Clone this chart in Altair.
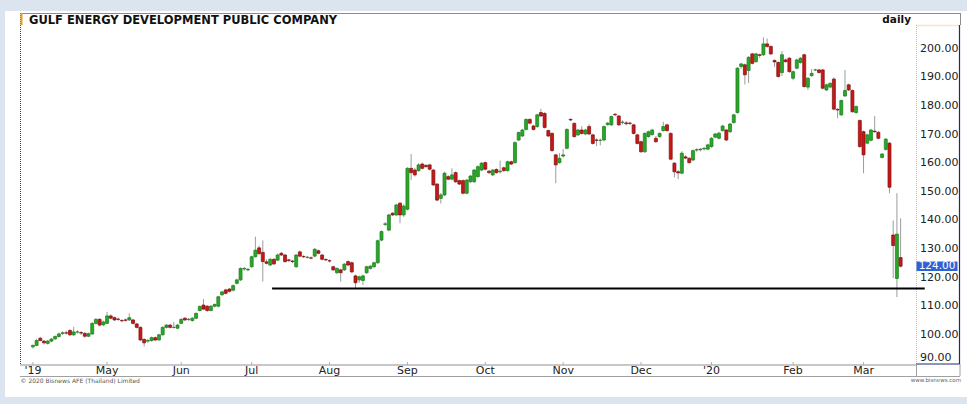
import pandas as pd
import altair as alt

# ---------------- texts ----------------
TITLE = "GULF ENERGY DEVELOPMENT PUBLIC COMPANY"
PERIOD = "daily"
COPYRIGHT = "© 2020 Bisnews AFE (Thailand) Limited"
SOURCE = "www.bisnews.com"

# ---------------- axis data ----------------
month_start_idx = [0, 20, 40, 59, 80, 101, 122, 143, 164, 183, 205, 224]
month_labels = ["'19", "May", "Jun", "Jul", "Aug", "Sep", "Oct", "Nov", "Dec", "'20", "Feb", "Mar"]
price_ticks = [90, 100, 110, 120, 130, 140, 150, 160, 170, 180, 190, 200]

# support line
support_level = [116.2]
support_from = [64.5]
support_to = [240.5]

# ---------------- OHLC (trading-day index 0 = early Apr 2019) ----------------
open_ = [
    95.8, 96.3, 98.8, 97.8, 97.0, 97.8, 98.6, 99.4, 100.5, 100.7, 101.5, 100.0, 101.0, 100.8, 100.5, 99.5, 100.3, 104.0, 105.4, 103.5,
    104.0, 106.6, 106.0, 105.5, 105.0, 105.2, 105.2, 105.2, 103.8, 102.6, 98.4, 97.8, 98.0, 99.0, 98.2, 100.0, 102.6, 103.4, 102.6, 102.3,
    104.0, 105.8, 105.4, 105.0, 105.8, 108.5, 110.4, 110.0, 108.5, 110.0, 110.0, 114.0, 115.7, 116.0, 115.6, 118.0, 119.2, 123.0, 122.7,
    123.8, 127.3, 130.4, 128.8, 125.5, 124.4, 126.4, 126.1, 128.5, 127.9, 126.2, 125.8, 123.8, 129.0, 127.4, 127.1, 126.9, 127.5, 129.4, 127.9, 126.3,
    125.9, 123.8, 121.7, 122.7, 122.7, 125.6, 125.2, 120.6, 119.2, 119.0, 121.7, 123.2, 123.8, 125.2, 133.1, 138.6, 136.6, 142.5, 141.9, 146.0, 141.9,
    143.9, 158.2, 157.6, 157.4, 159.7, 159.2, 159.4, 157.6, 152.7, 147.7, 148.9, 155.3, 154.4, 156.7, 153.9, 153.9, 149.5, 153.5, 153.5, 155.3, 157.6,
    160.2, 157.2, 155.9, 157.8, 157.0, 158.4, 157.4, 160.5, 160.2, 168.1, 169.5, 171.8, 175.3, 173.0, 172.8, 177.7, 177.4, 171.4, 170.4, 162.9, 160.2,
    162.5, 165.2, 175.3, 173.9, 169.9, 171.6, 170.2, 172.8, 169.9, 168.1, 168.0, 168.1, 173.5, 173.4, 177.1, 176.5, 174.3, 174.1, 174.0, 173.4, 169.9,
    167.5, 164.0, 169.3, 170.0, 168.7, 169.3, 171.4, 173.4, 170.4, 160.0, 157.0, 156.5, 162.2, 161.7, 161.1, 164.6, 164.7, 165.0, 164.9,
    165.8, 169.1, 168.7, 171.4, 171.6, 171.0, 174.2, 177.7, 193.8, 194.4, 192.4, 198.2, 195.5, 197.9, 197.9, 201.7, 200.8, 195.9, 195.2, 191.7, 196.1, 196.7,
    189.7, 193.2, 195.2, 197.9, 186.6, 190.6, 192.6, 192.6, 192.6, 185.6, 186.6, 189.4, 178.8, 176.9, 183.5, 187.4, 185.4, 177.7, 174.9,
    171.0, 167.0, 168.0, 171.2, 170.8, 162.0, 164.8, 167.0, 134.9, 119.7, 127.0,
]
high = [
    96.6, 98.6, 99.3, 98.2, 98.2, 98.9, 99.8, 100.8, 101.2, 101.4, 102.0, 102.8, 101.6, 101.3, 101.0, 100.8, 104.4, 105.8, 105.9, 105.0,
    108.0, 107.2, 106.4, 106.0, 105.5, 105.7, 107.5, 105.6, 104.2, 103.0, 98.8, 98.6, 99.4, 99.4, 100.4, 103.0, 103.8, 103.8, 104.5, 103.8,
    105.8, 106.2, 105.9, 106.2, 107.8, 110.3, 112.5, 110.4, 110.4, 111.0, 113.6, 115.4, 116.1, 116.4, 117.6, 119.6, 123.6, 123.8, 123.4,
    127.7, 134.3, 131.2, 133.0, 126.4, 126.8, 126.8, 128.4, 129.0, 128.3, 126.6, 126.2, 128.2, 129.5, 127.8, 127.6, 127.4, 130.4, 129.8, 128.3, 126.8,
    126.4, 124.2, 123.6, 123.1, 125.1, 126.0, 125.6, 121.0, 120.7, 121.0, 124.2, 124.4, 125.6, 133.3, 136.5, 139.4, 142.3, 142.9, 145.8, 146.4, 145.6,
    158.6, 163.2, 158.4, 160.0, 160.2, 159.7, 159.8, 158.0, 153.1, 149.6, 157.0, 155.8, 158.2, 157.1, 154.3, 154.3, 154.5, 155.9, 158.0, 159.2, 160.4,
    160.6, 157.6, 158.0, 158.2, 160.9, 158.8, 160.9, 160.9, 167.6, 171.1, 172.0, 175.7, 175.7, 173.4, 177.3, 179.0, 177.8, 171.8, 170.8, 163.3, 163.5,
    165.0, 172.2, 175.7, 174.3, 172.0, 173.0, 172.0, 173.6, 170.3, 168.7, 168.6, 173.2, 174.4, 176.7, 177.5, 176.9, 175.0, 174.7, 174.5, 173.8, 170.3,
    167.9, 170.8, 171.4, 172.0, 169.5, 170.8, 174.5, 173.8, 170.8, 160.4, 157.6, 164.2, 162.8, 162.1, 164.8, 165.2, 165.3, 165.6, 166.8,
    169.1, 170.6, 171.0, 173.4, 172.0, 174.1, 177.3, 193.6, 195.1, 194.8, 197.4, 198.6, 198.6, 198.3, 204.0, 203.6, 201.2, 196.3, 195.6, 199.2, 196.6, 197.1,
    192.4, 196.5, 197.1, 198.3, 190.1, 192.9, 193.0, 193.0, 193.0, 187.8, 188.3, 190.0, 179.2, 182.3, 192.6, 187.8, 185.8, 180.2, 175.3,
    171.4, 170.3, 172.0, 176.5, 171.2, 163.6, 168.8, 167.4, 140.0, 149.5, 140.7,
]
low = [
    95.2, 96.0, 97.8, 96.6, 96.6, 97.4, 98.2, 99.0, 100.0, 100.1, 99.6, 99.6, 100.4, 100.0, 99.0, 99.2, 100.0, 103.6, 103.0, 103.0,
    103.8, 105.4, 104.8, 104.9, 104.4, 104.6, 104.8, 103.6, 102.2, 97.8, 95.9, 97.2, 97.6, 97.8, 98.0, 99.8, 102.2, 102.2, 102.2, 102.0,
    103.8, 104.8, 104.8, 104.6, 105.4, 108.2, 108.6, 108.0, 108.2, 109.6, 109.6, 113.6, 114.1, 114.8, 115.2, 117.6, 118.8, 122.4, 122.2,
    123.4, 127.0, 127.8, 118.6, 124.6, 124.0, 124.4, 125.8, 127.5, 125.2, 125.4, 125.0, 123.4, 127.1, 126.8, 126.6, 126.4, 127.1, 128.1, 126.0, 125.8,
    125.3, 122.3, 121.3, 118.6, 122.3, 124.0, 121.6, 116.2, 118.2, 117.4, 121.3, 122.8, 123.4, 124.8, 132.7, 138.0, 136.2, 141.5, 141.5, 139.0, 141.2,
    143.5, 154.1, 155.3, 157.0, 157.8, 158.4, 157.5, 152.0, 146.7, 145.9, 148.5, 154.0, 154.0, 153.1, 152.3, 149.1, 149.1, 153.1, 153.1, 154.9, 157.2,
    157.5, 156.2, 155.5, 156.3, 156.4, 157.0, 157.0, 159.3, 159.8, 167.7, 169.1, 171.4, 173.6, 171.4, 172.4, 176.1, 172.1, 169.1, 164.0, 153.0, 159.8,
    161.9, 164.8, 174.7, 168.9, 169.5, 170.0, 169.8, 169.8, 166.5, 166.0, 166.2, 167.7, 173.1, 173.0, 176.5, 173.0, 173.6, 173.2, 173.3, 170.0, 166.5,
    163.6, 163.6, 168.9, 169.6, 167.1, 168.9, 171.0, 171.0, 161.0, 155.0, 154.4, 156.1, 161.4, 159.8, 160.7, 164.0, 164.1, 164.4, 164.5,
    165.4, 168.7, 168.3, 171.0, 167.7, 170.6, 173.8, 177.3, 193.0, 187.5, 188.0, 194.5, 195.1, 196.8, 197.5, 200.4, 197.8, 193.6, 189.9, 190.5, 195.1, 191.6,
    189.0, 192.8, 194.8, 186.4, 185.6, 190.2, 192.2, 191.3, 185.8, 185.2, 186.2, 178.5, 175.7, 176.5, 183.1, 185.2, 177.6, 177.3, 165.4,
    156.5, 166.6, 167.6, 170.6, 168.3, 161.6, 164.4, 149.5, 119.8, 113.2, 123.5,
]
close = [
    96.3, 98.0, 98.0, 97.2, 97.8, 98.5, 99.4, 100.3, 100.7, 100.6, 100.0, 101.0, 101.0, 100.6, 99.5, 100.4, 104.0, 105.4, 103.4, 104.5,
    106.6, 105.8, 105.2, 105.4, 104.9, 105.1, 106.0, 104.0, 102.6, 98.2, 97.2, 98.0, 99.0, 98.2, 100.0, 102.6, 103.4, 102.6, 102.6, 103.4,
    105.4, 105.2, 105.4, 105.8, 107.5, 109.9, 109.0, 108.5, 110.0, 110.6, 113.3, 115.0, 114.5, 115.2, 117.2, 119.2, 123.2, 123.2, 122.9,
    127.3, 129.6, 128.4, 125.6, 125.0, 126.4, 124.8, 127.9, 127.9, 125.6, 126.0, 125.6, 127.9, 127.5, 127.3, 127.1, 126.8, 129.9, 128.5, 126.4, 126.2,
    125.8, 122.7, 123.2, 121.7, 124.7, 124.4, 122.0, 118.2, 120.3, 120.6, 123.8, 124.0, 125.2, 132.9, 136.1, 138.8, 141.9, 141.9, 145.4, 141.9, 145.0,
    158.2, 156.7, 155.9, 159.4, 158.2, 158.8, 157.9, 152.4, 147.1, 148.9, 156.5, 154.4, 155.9, 153.5, 152.7, 149.5, 154.1, 155.5, 157.6, 158.8, 160.0,
    157.9, 156.7, 157.6, 156.7, 157.2, 157.4, 160.5, 159.7, 167.2, 170.7, 171.6, 175.3, 174.0, 171.8, 176.9, 176.5, 172.5, 169.5, 164.4, 159.4, 161.7,
    162.9, 171.8, 175.1, 169.3, 171.6, 170.4, 171.6, 170.2, 166.9, 168.0, 168.0, 172.8, 174.0, 176.3, 176.9, 173.4, 174.3, 173.8, 173.9, 170.4, 166.9,
    164.0, 170.4, 171.0, 171.6, 167.5, 170.4, 172.8, 171.4, 161.4, 157.0, 156.6, 163.5, 161.8, 160.2, 164.4, 164.7, 164.9, 165.2, 166.4,
    168.7, 170.2, 170.5, 173.0, 168.1, 173.7, 176.9, 193.2, 194.7, 190.9, 197.0, 194.9, 198.2, 197.7, 201.7, 200.8, 198.2, 195.4, 190.3, 197.9, 195.5, 192.0,
    192.0, 196.1, 196.7, 186.8, 189.7, 191.4, 192.6, 191.7, 186.2, 187.4, 187.9, 178.9, 178.6, 181.9, 185.4, 185.6, 178.0, 179.8, 165.8,
    162.9, 169.9, 171.6, 171.0, 168.7, 163.2, 168.4, 151.6, 131.2, 135.2, 124.0,
]

assert len(open_) == len(high) == len(low) == len(close)

df = pd.DataFrame({"i": list(range(len(close))), "open": open_, "high": high,
                   "low": low, "close": close})
df["dir"] = ["up" if c >= o else "down" for o, c in zip(open_, close)]

# ---------------- scales ----------------
W, H = 896, 351
xs = alt.Scale(domain=[-2.13, 236.8], nice=False, zero=False)
ys = alt.Scale(domain=[89.8, 212.5], nice=False, zero=False)
FONT = "DejaVu Sans"


def X(field):
    return alt.X(field, scale=xs, axis=None, title=None)


def Y(field):
    return alt.Y(field, scale=ys, axis=None, title=None)


one = pd.DataFrame({"k": [0]})


def deco_rule(x, x2, y, y2, color, width=1.0, dash=None):
    kw = dict(color=color, strokeWidth=width)
    if dash:
        kw["strokeDash"] = dash
    return alt.Chart(one).mark_rule(**kw).encode(
        x=alt.value(x), x2=alt.value(x2), y=alt.value(y), y2=alt.value(y2))


def deco_text(txt, x, y, size, align="left", weight="normal", color="#111111"):
    return alt.Chart(one).mark_text(text=txt, font=FONT, fontSize=size, align=align,
                                    baseline="alphabetic", fontWeight=weight,
                                    color=color).encode(x=alt.value(x), y=alt.value(y))


panel = alt.Chart(one).mark_rect(color="white").encode(
    x=alt.value(-15), x2=alt.value(947), y=alt.value(-2), y2=alt.value(384))

frame = [
    deco_rule(0, 940, 0.5, 0.5, "#8c8c8c"),              # top border
    deco_rule(940.5, 940.5, 0, 12, "#8c8c8c"),            # right border top
    deco_rule(0.5, 0.5, 0, 351, "#444444", 1, [1, 1]),   # left dotted border
    deco_rule(1.5, 1.5, 0, 12, "#f39c12", 2),            # orange tab
    deco_rule(896, 939, 12.5, 12.5, "#f6e6c2", 1.5),     # price box top
    deco_rule(896.5, 896.5, 12, 351, "#e2c35a", 1, [1, 1]),  # price axis dotted
    deco_rule(939.5, 939.5, 12, 351, "#1b2a7a", 1.2),    # price box right
    deco_rule(896, 940, 351, 351, "#1b2a7a", 1),         # price box bottom
    deco_rule(0, 896, 352, 352, "#c8c8c8", 2),           # x band top
    deco_rule(0, 940, 363.5, 363.5, "#a0a0a0", 1),       # x band bottom
    deco_rule(896.5, 896.5, 351, 363, "#a0a0a0", 1),
    deco_rule(940, 940, 351, 363, "#a0a0a0", 1),
]

months = pd.DataFrame({"m": month_start_idx, "label": month_labels})
month_ticks = alt.Chart(months).mark_rule(color="#b0b0b0", strokeWidth=1).encode(
    x=X("m:Q"), y=alt.value(349), y2=alt.value(352))
month_text = alt.Chart(months).mark_text(font=FONT, fontSize=11, color="#222222",
                                         align="center", baseline="alphabetic").encode(
    x=X("m:Q"), y=alt.value(360.5), text="label:N")

prices = pd.DataFrame({"p": price_ticks})
price_text = alt.Chart(prices).transform_filter("datum.p > 95").mark_text(
    font=FONT, fontSize=11, color="#222222", align="left", baseline="middle").encode(
    x=alt.value(900), y=Y("p:Q"), text=alt.Text("p:Q", format=".2f"))
price_text_bottom = alt.Chart(prices).transform_filter("datum.p <= 95").mark_text(
    font=FONT, fontSize=11, color="#222222", align="left", baseline="bottom").encode(
    x=alt.value(900), y=Y("p:Q"), text=alt.Text("p:Q", format=".2f"))

wick = alt.Chart(df).mark_rule(color="#9c9c9c", strokeWidth=1).encode(
    x=X("i:Q"), y=Y("low:Q"), y2="high:Q")

body = alt.Chart(df).mark_bar(size=3, strokeWidth=0.7).encode(
    x=X("i:Q"), y=Y("open:Q"), y2="close:Q",
    fill=alt.Fill("dir:N", scale=alt.Scale(domain=["up", "down"], range=["#27a827", "#c81818"]), legend=None),
    stroke=alt.Stroke("dir:N", scale=alt.Scale(domain=["up", "down"], range=["#1a7a1a", "#7c0d0d"]), legend=None))

support = alt.Chart(pd.DataFrame({"start": support_from, "end": support_to, "level": support_level})).mark_rule(
    color="black", strokeWidth=2).encode(
    x=X("start:Q"), x2="end:Q", y=Y("level:Q"))

last = pd.DataFrame({"close": [close[-1]]})
last_box = alt.Chart(last).transform_calculate(
    top="datum.close + 1.65", bot="datum.close - 1.65").mark_rect(color="#2f62d6").encode(
    x=alt.value(896.5), x2=alt.value(937.5), y=Y("top:Q"), y2="bot:Q")
last_txt = alt.Chart(last).mark_text(font=FONT, fontSize=10.5, color="white", align="center",
                                     baseline="middle").encode(
    x=alt.value(917), y=Y("close:Q"), text=alt.Text("close:Q", format=".2f"))

texts = [
    deco_text(TITLE, 9, 10.5, 11.5, weight="bold"),
    deco_text(PERIOD, 891, 10, 10.5, align="right", weight="bold"),
    deco_text(COPYRIGHT, 0.5, 370, 6, color="#555555"),
    deco_text(SOURCE, 941, 368.5, 5.5, align="right", color="#666666"),
]

chart = alt.layer(panel, *frame, month_ticks, month_text, price_text, price_text_bottom,
                  wick, body, support, last_box, last_txt, *texts).properties(
    width=W, height=H,
    autosize=alt.AutoSizeParams(type="none"),
    padding={"left": 20, "top": 13, "right": 51, "bottom": 40},
    background="#dce5ef",
).configure_view(strokeWidth=0)

chart.save("out.html", embed_options={"renderer": "svg", "actions": False})
